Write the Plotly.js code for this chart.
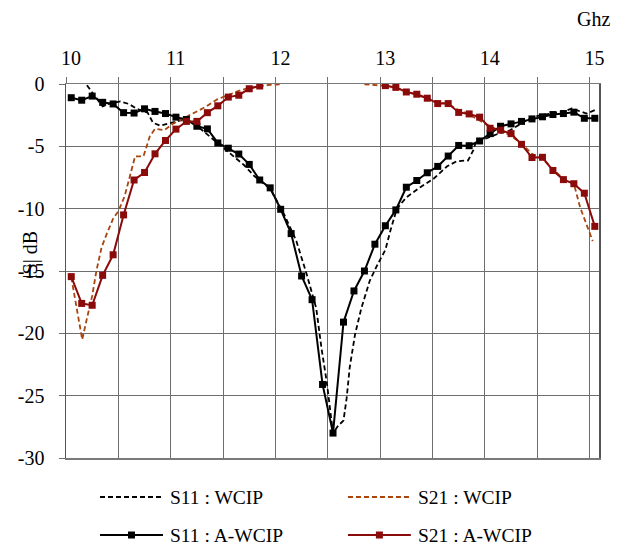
<!DOCTYPE html>
<html>
<head>
<meta charset="utf-8">
<script src="https://cdn.plot.ly/plotly-3.0.1.min.js"></script>
<style>html,body{margin:0;padding:0;background:#fff;}#chart{width:623px;height:551px;}</style>
</head>
<body>
<div id="chart"></div>
<script>
// Frequencies (GHz) of the A-WCIP samples
const freqA = [10.05,10.15,10.25,10.35,10.45,10.55,10.65,10.75,10.85,10.95,
  11.05,11.15,11.25,11.35,11.45,11.55,11.65,11.75,11.85,11.95,
  12.05,12.15,12.25,12.35,12.45,12.55,12.65,12.75,12.85,12.95,
  13.05,13.15,13.25,13.35,13.45,13.55,13.65,13.75,13.85,13.95,
  14.05,14.15,14.25,14.35,14.45,14.55,14.65,14.75,14.85,14.95,15.05];
const s11A = [-1.1,-1.3,-0.97,-1.47,-1.6,-2.3,-2.33,-1.99,-2.2,-2.37,
  -2.66,-2.85,-3.39,-3.6,-4.73,-5.15,-5.62,-6.45,-7.7,-8.33,
  -10.05,-12.0,-15.4,-17.3,-24.1,-28.0,-19.1,-16.6,-15.0,-12.85,
  -11.37,-10.1,-8.28,-7.74,-7.12,-6.61,-5.78,-4.93,-4.95,-4.57,
  -3.98,-3.39,-3.2,-3.0,-2.8,-2.63,-2.45,-2.37,-2.26,-2.75,-2.75];
const s21A = [-15.45,-17.6,-17.75,-15.35,-13.7,-10.5,-7.7,-7.1,-5.6,-4.53,
  -3.62,-3.0,-3.0,-2.3,-1.75,-1.05,-0.9,-0.38,-0.16,null,
  null,null,null,null,null,null,null,null,null,null,
  -0.13,-0.27,-0.64,-0.82,-1.14,-1.57,-1.57,-2.28,-2.4,-2.66,
  -3.55,-3.7,-3.98,-4.84,-5.9,-5.88,-6.94,-7.67,-8.0,-8.76,-11.42];

// WCIP (dashed) curves
const freqS11W = [10.20,10.27,10.35,10.42,10.52,10.60,10.68,10.78,10.83,10.90,
  11.00,11.10,11.20,11.30,11.40,11.50,11.60,11.70,11.80,11.95,
  12.08,12.20,12.30,12.39,12.44,12.49,12.55,12.60,12.65,12.68,
  12.71,12.76,12.82,12.90,12.98,13.05,13.10,13.16,13.25,13.38,
  13.51,13.64,13.73,13.84,13.89,13.92,14.02,14.13,14.24,14.32,
  14.42,14.53,14.65,14.75,14.83,14.91,14.97,15.05];
const s11W = [-0.1,-0.9,-1.8,-1.55,-1.4,-1.6,-2.0,-2.3,-3.1,-3.35,
  -3.1,-2.9,-3.0,-3.7,-4.4,-5.1,-5.8,-6.5,-7.4,-8.4,
  -10.4,-12.6,-15.3,-18.0,-21.2,-23.9,-28.0,-27.4,-27.0,-25.2,
  -22.7,-20.1,-18.0,-15.8,-14.4,-13.3,-11.7,-10.0,-9.1,-8.3,
  -7.6,-6.6,-6.2,-6.13,-5.3,-4.5,-4.35,-3.98,-3.71,-3.3,
  -2.8,-2.5,-2.37,-2.23,-1.96,-2.23,-2.37,-2.1];
const freqS21W = [10.05,10.10,10.155,10.20,10.25,10.29,10.34,10.39,10.45,10.50,
  10.56,10.61,10.66,10.74,10.80,10.85,10.94,11.02,11.12,11.22,
  11.33,11.44,11.55,11.65,11.75,11.85,11.95,12.05,12.45,12.85,
  12.95,13.05,13.15,13.25,13.35,13.45,13.55,13.65,13.75,13.85,
  13.95,14.05,14.15,14.25,14.35,14.45,14.55,14.65,14.75,14.85,
  14.91,14.97,15.03];
const s21W = [-15.5,-17.8,-20.5,-18.8,-17.0,-15.0,-13.1,-12.0,-10.8,-10.2,
  -9.0,-7.4,-5.8,-5.8,-4.2,-3.6,-3.7,-3.2,-2.75,-2.3,
  -1.85,-1.25,-0.85,-0.55,-0.3,-0.15,-0.06,-0.02,null,-0.02,
  -0.08,-0.15,-0.3,-0.6,-0.85,-1.15,-1.45,-1.6,-2.1,-2.45,
  -2.9,-3.4,-3.75,-4.15,-4.8,-5.6,-6.0,-6.85,-7.6,-8.0,
  -9.9,-11.2,-12.6];

const xTickVals = [10,10.5,11,11.5,12,12.5,13,13.5,14,14.5,15];
const xTickText = ["10","","11","","12","","13","","14","","15"];
const yTickVals = [0,-5,-10,-15,-20,-25,-30];
const yTickText = ["0","-5","-10","-15","-20","-25","-30"];
const seriesNames = ["S11 : WCIP","S21 : WCIP","S11 : A-WCIP","S21 : A-WCIP"];

const cBlack = "#000000";
const cRed = "#8b0a0a";
const cOrange = "#a8450f";
const font = "Liberation Serif, Times New Roman, serif";

const traces = [
  {x: freqS11W, y: s11W, name: seriesNames[0], mode: "lines",
   line: {color: cBlack, width: 1.8, dash: "5px,3px"}},
  {x: freqS21W, y: s21W, name: seriesNames[1], mode: "lines",
   line: {color: cOrange, width: 1.8, dash: "5px,3px"}},
  {x: freqA, y: s11A, name: seriesNames[2], mode: "lines+markers",
   line: {color: cBlack, width: 2}, marker: {symbol: "square", size: 7, color: cBlack}},
  {x: freqA, y: s21A, name: seriesNames[3], mode: "lines+markers",
   line: {color: cRed, width: 2}, marker: {symbol: "square", size: 7, color: cRed}}
];

// manual legend geometry (paper coords)
const L = {rows: [-0.1043, -0.2059], cols: [[0.0638, 0.182, 0.1914], [0.529, 0.647, 0.6567]]};
const shapes = [];
const annotations = [];
const legendDefs = [
  {row:0, col:0, color:cBlack, dash:"5px,3px", marker:false, name:seriesNames[0]},
  {row:0, col:1, color:cOrange, dash:"5px,3px", marker:false, name:seriesNames[1]},
  {row:1, col:0, color:cBlack, dash:"solid", marker:true, name:seriesNames[2]},
  {row:1, col:1, color:cRed, dash:"solid", marker:true, name:seriesNames[3]}
];
legendDefs.forEach(d => {
  const c = L.cols[d.col], yy = L.rows[d.row];
  shapes.push({type:"line", xref:"paper", yref:"paper", x0:c[0], x1:c[1], y0:yy, y1:yy,
    line:{color:d.color, width:2, dash:d.dash}});
  if (d.marker) {
    shapes.push({type:"rect", xref:"paper", yref:"paper", xsizemode:"pixel", ysizemode:"pixel",
      xanchor:(c[0]+c[1])/2, yanchor:yy, x0:-3.5, x1:3.5, y0:-3.5, y1:3.5,
      fillcolor:d.color, line:{width:0}});
  }
  annotations.push({xref:"paper", yref:"paper", x:c[2], y:yy, xanchor:"left", yanchor:"middle",
    text:d.name, showarrow:false, font:{family:font, size:19.5, color:"#000"}});
});
annotations.push({xref:"paper", yref:"paper", x:1.0244, y:1.174, xanchor:"right", yanchor:"middle",
  text:"Ghz", showarrow:false, font:{family:font, size:20, color:"#000"}});
annotations.push({xref:"paper", yref:"paper", x:-0.0665, y:0.543, xanchor:"center", yanchor:"middle",
  text:"|S| dB", textangle:-90, showarrow:false, font:{family:font, size:20, color:"#000"}});

const layout = {
  width: 623, height: 551,
  margin: {l: 66, r: 24, t: 84, b: 93, pad: 0},
  paper_bgcolor: "#fff", plot_bgcolor: "#fff",
  showlegend: false,
  font: {family: font, size: 20, color: "#000"},
  xaxis: {
    side: "top", range: [10, 15.09], tickmode: "array", tickvals: xTickVals, ticktext: xTickText,
    showgrid: true, gridcolor: "#6e6e6e", gridwidth: 1,
    ticks: "outside", ticklen: 6, tickcolor: "#6e6e6e",
    showline: true, linecolor: "#7a7a7a", linewidth: 1.5, mirror: true,
    zeroline: false, ticklabelstandoff: 4, ticklabelshift: 5,
    tickfont: {family: font, size: 20, color: "#000"}
  },
  yaxis: {
    range: [-30, 0], tickmode: "array", tickvals: yTickVals, ticktext: yTickText,
    showgrid: true, gridcolor: "#6e6e6e", gridwidth: 1,
    ticks: "outside", ticklen: 6, tickcolor: "#6e6e6e",
    showline: true, linecolor: "#555", linewidth: 1.5, mirror: true,
    zeroline: false, ticklabelstandoff: 10,
    tickfont: {family: font, size: 20, color: "#000"}
  },
  shapes: shapes,
  annotations: annotations
};

Plotly.newPlot("chart", traces, layout, {displayModeBar: false, staticPlot: true});
</script>
</body>
</html>
